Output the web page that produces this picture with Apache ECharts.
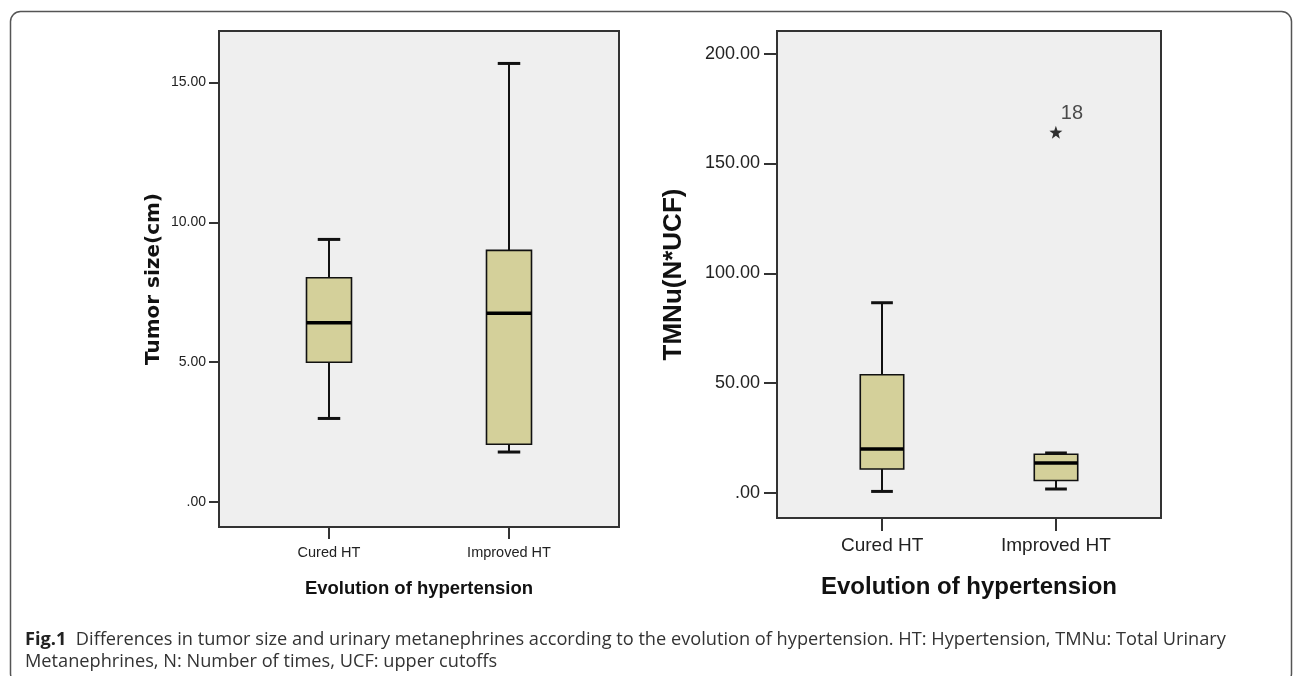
<!DOCTYPE html>
<html>
<head>
<meta charset="utf-8">
<script src="https://cdn.jsdelivr.net/npm/echarts@6/dist/echarts.min.js"></script>
<style>
html,body{margin:0;padding:0;background:#fff;}
#chart{width:1296px;height:676px;}
</style>
</head>
<body>
<div id="chart"></div>
<script>
// ---- data ----
const categories = ['Cured HT', 'Improved HT'];
// [low whisker, Q1, median, Q3, high whisker]
const tumorSizeBoxes = [
  [2.99, 5.00, 6.41, 8.02, 9.39],
  [1.79, 2.07, 6.75, 9.00, 15.68]
];
const tmnuBoxes = [
  [0.7, 10.9, 20.0, 53.8, 86.6],
  [1.8, 5.7, 13.6, 17.6, 18.2]
];
const tmnuOutliers = [[1, 164.2, '18']];
const tumorTicks = [0, 5, 10, 15];
const tmnuTicks = [0, 50, 100, 150, 200];
const catTicks = [0, 1];
const captionLines = [
  'Differences in tumor size and urinary metanephrines according to the evolution of hypertension. HT: Hypertension, TMNu: Total Urinary',
  'Metanephrines, N: Number of times, UCF: upper cutoffs'
];

// ---- font helpers ----
const _ctx = document.createElement('canvas').getContext('2d');
function textW(text, weight, size, family) {
  _ctx.font = weight + ' ' + size + 'px ' + family;
  return _ctx.measureText(text).width;
}
function fitSize(text, weight, family, targetW) {
  return Math.round(targetW / textW(text, weight, 100, family) * 1000) / 10;
}
const FONT_ARIAL = "'Liberation Sans',Arial,sans-serif";
const FONT_CAPTION = "'Open Sans','Noto Sans',sans-serif";
const captionSize = fitSize('Fig.1  ' + captionLines[0], 'normal', FONT_CAPTION, 1197);

function fmtTick(v) {
  return v === 0 ? '.00' : v.toFixed(2);
}

function boxData(arr) {
  return arr.map((b, i) => [i].concat(b));
}

function renderBox(params, api) {
  const x = api.value(0);
  const lo = api.coord([x, api.value(1)]);
  const q1 = api.coord([x, api.value(2)]);
  const md = api.coord([x, api.value(3)]);
  const q3 = api.coord([x, api.value(4)]);
  const hi = api.coord([x, api.value(5)]);
  const bw = api.size([0.25, 0])[0];
  const cw = api.size([0.125, 0])[0];
  const cx = Math.round(lo[0]);
  const ls = {stroke: '#111', lineWidth: 2};
  return {
    type: 'group',
    children: [
      {type: 'line', shape: {x1: cx, y1: hi[1], x2: cx, y2: q3[1]}, style: ls},
      {type: 'line', shape: {x1: cx, y1: q1[1], x2: cx, y2: lo[1]}, style: ls},
      {type: 'line', shape: {x1: cx - cw / 2, y1: hi[1], x2: cx + cw / 2, y2: hi[1]}, style: {stroke: '#111', lineWidth: 3}},
      {type: 'line', shape: {x1: cx - cw / 2, y1: lo[1], x2: cx + cw / 2, y2: lo[1]}, style: {stroke: '#111', lineWidth: 3}},
      {type: 'rect', shape: {x: cx - bw / 2, y: q3[1], width: bw, height: q1[1] - q3[1]},
        style: {fill: '#d4d09a', stroke: '#111', lineWidth: 1.6}},
      {type: 'line', shape: {x1: cx - bw / 2, y1: md[1], x2: cx + bw / 2, y2: md[1]}, style: {stroke: '#000', lineWidth: 3.5}}
    ]
  };
}

const starPath = 'path://M0,-10L2.35,-3.24L9.51,-3.09L3.8,1.24L5.88,8.09L0,4L-5.88,8.09L-3.8,1.24L-9.51,-3.09L-2.35,-3.24Z';

const chart = echarts.init(document.getElementById('chart'), null, {renderer: 'canvas'});

const gridStyle = {show: true, backgroundColor: '#efefef', borderColor: '#333', borderWidth: 2};

const option = {
  animation: false,
  grid: [
    Object.assign({left: 219, top: 31, width: 400, height: 496}, gridStyle),
    Object.assign({left: 777, top: 31, width: 384, height: 487}, gridStyle)
  ],
  xAxis: [
    {
      type: 'value', gridIndex: 0, min: -0.611, max: 1.611,
      splitLine: {show: false},
      axisLine: {show: false, onZero: false},
      axisTick: {show: true, length: 12, customValues: catTicks, lineStyle: {color: '#333', width: 2}},
      axisLabel: {customValues: catTicks, margin: 18, formatter: v => categories[Math.round(v)],
        fontFamily: FONT_ARIAL, fontSize: 14.5, color: '#222'},
      name: 'Evolution of hypertension', nameLocation: 'middle', nameGap: 52,
      nameTextStyle: {fontFamily: FONT_ARIAL, fontWeight: 'bold', fontSize: 18.5, color: '#111'}
    },
    {
      type: 'value', gridIndex: 1, min: -0.605, max: 1.605,
      splitLine: {show: false},
      axisLine: {show: false, onZero: false},
      axisTick: {show: true, length: 13, customValues: catTicks, lineStyle: {color: '#333', width: 2}},
      axisLabel: {customValues: catTicks, margin: 18, formatter: v => categories[Math.round(v)],
        fontFamily: FONT_ARIAL, fontSize: 19, color: '#222'},
      name: 'Evolution of hypertension', nameLocation: 'middle', nameGap: 57,
      nameTextStyle: {fontFamily: FONT_ARIAL, fontWeight: 'bold', fontSize: 24, color: '#111'}
    }
  ],
  yAxis: [
    {
      type: 'value', gridIndex: 0, min: -0.89, max: 16.84,
      splitLine: {show: false},
      axisLine: {show: false, onZero: false},
      axisTick: {show: true, length: 10, customValues: tumorTicks, lineStyle: {color: '#333', width: 2}},
      axisLabel: {customValues: tumorTicks, margin: 13, formatter: fmtTick,
        fontFamily: FONT_ARIAL, fontSize: 14, color: '#222'},
      name: 'Tumor size(cm)', nameLocation: 'middle', nameGap: 55, nameRotate: 90,
      nameTextStyle: {fontFamily: "'DejaVu Sans',sans-serif", fontWeight: 'bold', fontSize: 20, color: '#111'}
    },
    {
      type: 'value', gridIndex: 1, min: -11.4, max: 210.3,
      splitLine: {show: false},
      axisLine: {show: false, onZero: false},
      axisTick: {show: true, length: 13, customValues: tmnuTicks, lineStyle: {color: '#333', width: 2}},
      axisLabel: {customValues: tmnuTicks, margin: 17, formatter: fmtTick,
        fontFamily: FONT_ARIAL, fontSize: 18, color: '#222'},
      name: 'TMNu(N*UCF)', nameLocation: 'middle', nameGap: 90, nameRotate: 90, nameMoveOverlap: false,
      nameTextStyle: {fontFamily: FONT_ARIAL, fontWeight: 'bold', fontSize: 26, color: '#111'}
    }
  ],
  series: [
    {
      type: 'custom', xAxisIndex: 0, yAxisIndex: 0, clip: false,
      renderItem: renderBox, data: boxData(tumorSizeBoxes),
      encode: {x: 0, y: [1, 2, 3, 4, 5]}
    },
    {
      type: 'custom', xAxisIndex: 1, yAxisIndex: 1, clip: false,
      renderItem: renderBox, data: boxData(tmnuBoxes),
      encode: {x: 0, y: [1, 2, 3, 4, 5]}
    },
    {
      type: 'scatter', xAxisIndex: 1, yAxisIndex: 1,
      symbol: starPath, symbolSize: 13,
      itemStyle: {color: '#000'},
      data: tmnuOutliers.map(o => ({value: [o[0], o[1]], name: o[2]})),
      label: {show: true, position: 'top', distance: 2, offset: [16, 0], formatter: p => p.name,
        fontFamily: FONT_ARIAL, fontSize: 20, color: '#222'}
    }
  ],
  graphic: [
    {
      type: 'rect', silent: true, z: -1,
      shape: {x: 10.5, y: 11.5, width: 1281, height: 672, r: 10},
      style: {fill: 'none', stroke: '#555', lineWidth: 1.5}
    },
    {
      type: 'text', left: 25, top: 629,
      style: {
        text: '{b|Fig.1}  ' + captionLines[0] + '\n' + captionLines[1],
        fontFamily: FONT_CAPTION, fontSize: captionSize, lineHeight: 22, fill: '#333',
        rich: {b: {fontFamily: FONT_CAPTION, fontWeight: 'bold', fontSize: captionSize, fill: '#222'}}
      }
    }
  ]
};

chart.setOption(option);
</script>
</body>
</html>
